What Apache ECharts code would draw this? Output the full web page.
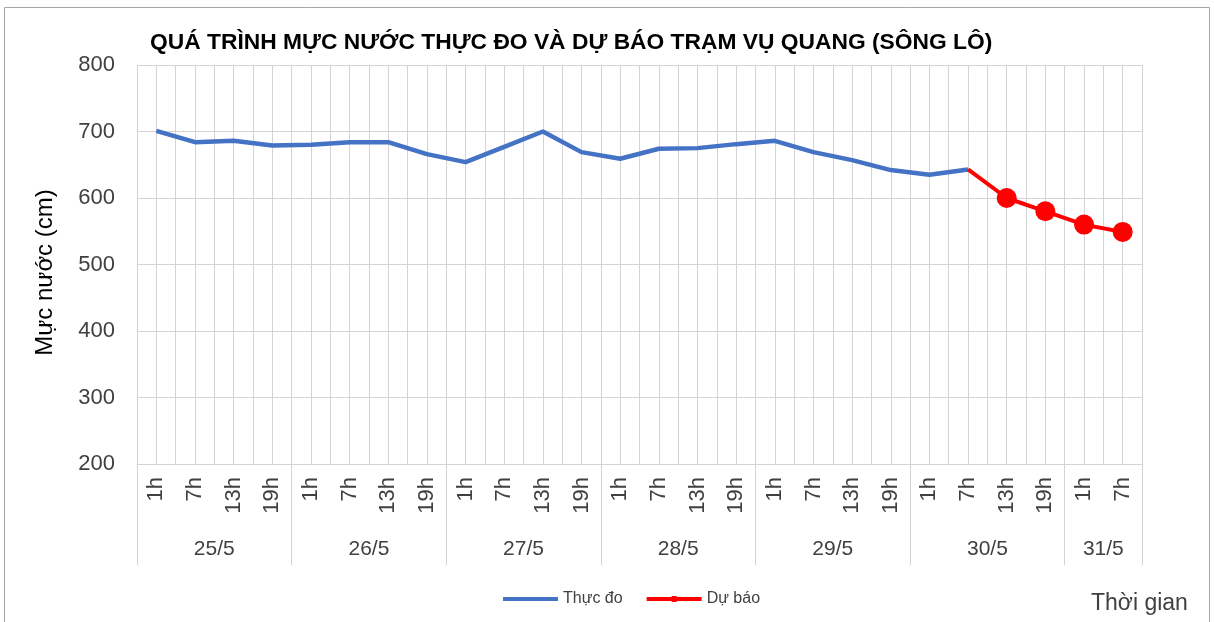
<!DOCTYPE html>
<html>
<head>
<meta charset="utf-8">
<script src="https://cdn.jsdelivr.net/npm/echarts@6/dist/echarts.min.js"></script>
<style>
  html, body { margin: 0; padding: 0; background: #fff; }
  #chart { width: 1214px; height: 622px; }
</style>
</head>
<body>
<div id="chart"></div>
<script>
// giờ đo trong ngày (trục phụ)
const hours = ['1h','7h','13h','19h','1h','7h','13h','19h','1h','7h','13h','19h',
  '1h','7h','13h','19h','1h','7h','13h','19h','1h','7h','13h','19h','1h','7h'];
// nhãn ngày và vị trí giữa nhóm, ranh giới nhóm
const dates = ['25/5','26/5','27/5','28/5','29/5','30/5','31/5'];
const dateCenters = [2, 6, 10, 14, 18, 22, 25];
const dateBounds = [0, 4, 8, 12, 16, 20, 24, 26];

// mực nước thực đo (cm)
const observed = [701, 684, 686, 679, 680, 684, 684, 666, 654, 677, 700, 669, 659,
  674, 675, 681, 686, 669, 657, 642, 635, 643, null, null, null, null];
// mực nước dự báo (cm)
const forecast = [null, null, null, null, null, null, null, null, null, null, null,
  null, null, null, null, null, null, null, null, null, null, 643, 600, 580, 560, 549];

const yTicks = { min: 200, max: 800, interval: 100 };

const FONT = '"Liberation Sans", Arial, sans-serif';
const GRID = '#d4d4d4';
const TXT = '#404040';

const chart = echarts.init(document.getElementById('chart'));

const dateMap = {};
dateCenters.forEach((c, i) => { dateMap[c] = dates[i]; });

chart.setOption({
  animation: false,
  textStyle: { fontFamily: FONT },
  title: [
    {
      text: 'QUÁ TRÌNH MỰC NƯỚC THỰC ĐO VÀ DỰ BÁO TRẠM VỤ QUANG (SÔNG LÔ)',
      left: 150, top: 31, padding: 0,
      textStyle: { fontSize: 22.8, fontWeight: 'bold', color: '#000', fontFamily: FONT }
    },
    {
      text: 'Thời gian',
      left: 1091, top: 592, padding: 0,
      textStyle: { fontSize: 23, fontWeight: 'normal', color: TXT, fontFamily: FONT }
    }
  ],
  legend: {
    left: 503, top: 591, padding: 0,
    itemWidth: 55, itemHeight: 8, itemGap: 24,
    textStyle: { fontSize: 16, color: TXT },
    data: [
      { name: 'Thực đo', icon: 'path://M0,0M0,2h55v4h-55zM55,8' },
      { name: 'Dự báo', icon: 'path://M0,0M0,2h55v4h-55zM25,1h5v6h-5zM55,8' }
    ]
  },
  grid: { left: 137, right: 72, top: 65, bottom: 158 },
  xAxis: [
    {
      type: 'category',
      data: hours,
      boundaryGap: true,
      axisLine: { show: true, lineStyle: { color: GRID } },
      axisTick: { show: false },
      axisLabel: { rotate: 90, interval: 0, fontSize: 22, color: TXT, margin: 13 },
      splitLine: { show: false }
    },
    {
      type: 'value',
      min: 0, max: 26,
      position: 'bottom',
      axisLine: { show: false },
      axisTick: { show: true, customValues: dateBounds, length: 101, lineStyle: { color: GRID } },
      axisLabel: {
        customValues: dateCenters, margin: 75, fontSize: 21, color: TXT,
        formatter: v => dateMap[v] || ''
      },
      splitLine: { show: false }
    },
    {
      type: 'value',
      min: 0, max: 26, interval: 0.5,
      axisLine: { show: false },
      axisTick: { show: false },
      axisLabel: { show: false },
      splitLine: { show: true, lineStyle: { color: GRID } }
    }
  ],
  yAxis: {
    type: 'value',
    min: yTicks.min, max: yTicks.max, interval: yTicks.interval,
    name: 'Mực nước (cm)',
    nameLocation: 'middle',
    nameGap: 80,
    nameTextStyle: { fontSize: 24, color: '#000', padding: [0, 16, 0, 0] },
    axisLine: { show: false },
    axisTick: { show: false },
    axisLabel: { fontSize: 22, color: TXT, margin: 22 },
    splitLine: { show: true, lineStyle: { color: GRID } }
  },
  series: [
    {
      name: 'Thực đo',
      type: 'line',
      xAxisIndex: 0,
      data: observed,
      symbol: 'none',
      lineStyle: { color: '#4472C4', width: 4.5 },
      itemStyle: { color: '#4472C4' }
    },
    {
      name: 'Dự báo',
      type: 'line',
      xAxisIndex: 0,
      data: forecast.map((v, i) => (i === 21 ? { value: v, symbol: 'none' } : v)),
      symbol: 'circle',
      symbolSize: 20,
      lineStyle: { color: '#FF0000', width: 4 },
      itemStyle: { color: '#FF0000' },
      z: 3
    }
  ],
  graphic: [
    {
      type: 'rect',
      shape: { x: 4.5, y: 7.5, width: 1205, height: 640 },
      style: { fill: 'none', stroke: '#a6a6a6', lineWidth: 1 },
      silent: true
    }
  ]
});

window.onresize = function () {
  chart.resize();
};
</script>
</body>
</html>
